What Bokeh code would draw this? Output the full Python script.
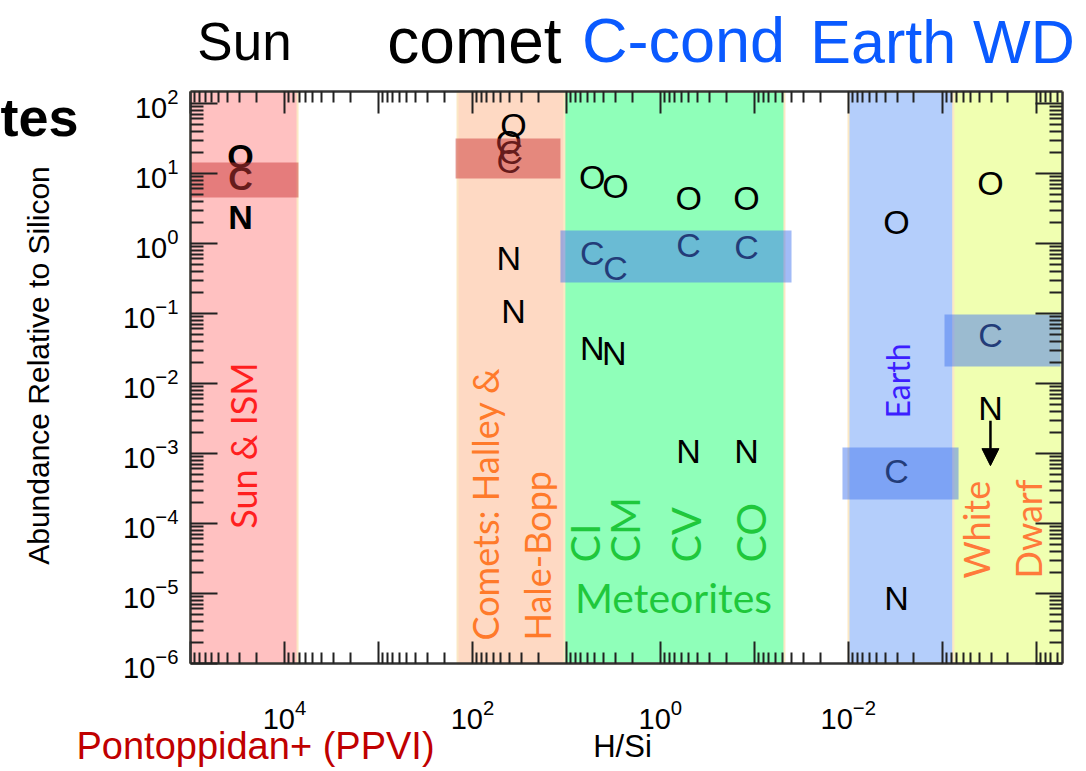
import math
from bokeh.plotting import figure
from bokeh.models import Range1d, LogAxis, FixedTicker, Label, Arrow, NormalHead
from bokeh.core.properties import value
from bokeh.embed import file_html
from bokeh.resources import INLINE

# ---------------- data ----------------
# Sun / ISM letters (bold in the original)
sun_elem = ["O", "C", "N"]
sun_hsi = [2.94e4, 2.94e4, 2.94e4]
sun_abund = [18.0, 8.5, 2.35]

# Comets (Halley, Hale-Bopp), meteorites CI, CM, CV, CO, Earth, White dwarf
other_elem = ["O", "O", "C", "C", "N", "N",
              "O", "C", "N",
              "O", "C", "N",
              "O", "C", "N",
              "O", "C", "N",
              "O", "C", "N",
              "O", "C", "N"]
other_hsi = [36.6, 41.0, 39.0, 41.0, 41.0, 36.6,
             5.3, 5.3, 5.3,
             3.0, 3.0, 3.1,
             0.50, 0.50, 0.50,
             0.121, 0.121, 0.121,
             3.07e-3, 3.07e-3, 3.07e-3,
             3.07e-4, 3.07e-4, 3.07e-4]
other_abund = [48.5, 27.7, 20.0, 15.3, 0.61, 0.11,
               8.8, 0.74, 0.032,
               6.7, 0.45, 0.027,
               4.5, 0.94, 1.1e-3,
               4.5, 0.88, 1.1e-3,
               2.0, 5.7e-4, 8.5e-6,
               7.4, 0.049, 4.5e-3]

# White dwarf N is an upper limit: arrow down to this value
wd_n_hsi = 3.07e-4
wd_n_value = 4.5e-3
wd_n_limit_tip = 6.7e-4

# H/Si ranges of the shaded regions
region_names = ["Sun & ISM", "Comets", "Meteorites", "Earth", "White Dwarf"]
region_hsi_hi = [1.0e5, 144.0, 10.5, 9.95e-3, 7.6e-4]
region_hsi_lo = [7.26e3, 10.5, 0.0478, 7.6e-4, 5.25e-5]

# Carbon ranges (translucent boxes)
crange_names = ["Sun", "comet", "C-cond", "Earth", "WD"]
crange_hsi_hi = [1.0e5, 151.0, 11.56, 0.01153, 9.46e-4]
crange_hsi_lo = [7.1e3, 11.56, 0.0402, 6.71e-4, 5.52e-5]
crange_hi = [14.4, 31.6, 1.53, 1.22e-3, 0.0968]
crange_lo = [4.54, 8.48, 0.277, 2.2e-4, 0.0175]

# axis ticks
x_major = [10.0 ** k for k in range(-4, 6)]
x_labelled = [10.0 ** k for k in (4, 2, 0, -2)]
y_major = [10.0 ** k for k in range(-6, 3)]

# ---------------- layout / styles ----------------
region_colors = ["#ffc1c1", "#fed9c3", "#8fffb9", "#b4cefb", "#f0ffb1"]
crange_colors = ["#cc3838", "#cc3838", "#4677f0", "#4677f0", "#4677f0"]

W, H = 1080, 770
# data box in canvas pixels and in log10 units
X_LO_LOG, X_HI_LOG = 5.0, -4.28      # left / right edges (reversed axis)
Y_LO_LOG, Y_HI_LOG = -6.0, 2.171     # bottom / top edges
BOX_L, BOX_T = 190, 91
PXD_X, PXD_Y = 93.97, 70.0           # pixels per decade

xr_start = 10 ** (X_LO_LOG + BOX_L / PXD_X)
xr_end = 10 ** (X_LO_LOG - (W - BOX_L) / PXD_X)
yr_end = 10 ** (Y_HI_LOG + BOX_T / PXD_Y)
yr_start = 10 ** (Y_HI_LOG - (H - BOX_T) / PXD_Y)

p = figure(width=W, height=H, x_axis_type="log", y_axis_type="log",
           x_range=Range1d(xr_start, xr_end), y_range=Range1d(yr_start, yr_end),
           min_border=0, output_backend="svg", toolbar_location=None)
p.grid.visible = False
p.outline_line_color = None
p.background_fill_color = "white"
p.border_fill_color = "white"


def sx(px):
    """canvas pixel x -> data x (for annotation placement)"""
    return 10 ** (X_LO_LOG - (px - BOX_L) / PXD_X)


def sy(py):
    """canvas pixel y -> data y (for annotation placement)"""
    return 10 ** (Y_HI_LOG - (py - BOX_T) / PXD_Y)


# shaded regions
p.quad(left=region_hsi_hi, right=region_hsi_lo, bottom=10 ** Y_LO_LOG, top=10 ** Y_HI_LOG,
       fill_color=region_colors, line_color="#fbe8c4", line_width=2)

# letters
p.text(x=sun_hsi, y=sun_abund, text=sun_elem, text_font=value("Liberation Sans"),
       text_font_size="34px", text_font_style="bold", text_align="center",
       text_baseline="middle", text_color="black")
p.text(x=other_hsi, y=other_abund, text=other_elem, text_font=value("Liberation Sans"),
       text_font_size="34px", text_align="center", text_baseline="middle",
       text_color="black")

# carbon boxes
p.quad(left=crange_hsi_hi, right=crange_hsi_lo, top=crange_hi, bottom=crange_lo,
       fill_color=crange_colors, fill_alpha=0.5, line_color=None)

# upper-limit arrow
p.add_layout(Arrow(end=NormalHead(size=17, fill_color="black", line_color="black"),
                   x_start=wd_n_hsi, y_start=wd_n_value / 10 ** (13 / 70.0),
                   x_end=wd_n_hsi, y_end=wd_n_limit_tip,
                   line_width=2.5, line_color="black"))

# ---------------- axes (drawn at the edges of the data box) ----------------
x_min, x_max = 10 ** X_HI_LOG, 10 ** X_LO_LOG
y_min, y_max = 10 ** Y_LO_LOG, 10 ** Y_HI_LOG
x_minor = [m * 10.0 ** k for k in range(-5, 6) for m in range(2, 10)
           if x_min < m * 10.0 ** k < x_max]
y_minor = [m * 10.0 ** k for k in range(-7, 3) for m in range(2, 10)
           if y_min < m * 10.0 ** k < y_max]
xt = FixedTicker(ticks=x_major, minor_ticks=x_minor)
yt = FixedTicker(ticks=y_major, minor_ticks=y_minor)
x_over = {t: " " for t in x_major if t not in x_labelled}


def style_axis(ax, major_len, minor_len):
    ax.axis_line_color = "#333333"
    ax.axis_line_width = 2.5
    ax.major_tick_line_color = "#222222"
    ax.minor_tick_line_color = "#222222"
    ax.major_tick_line_width = 2
    ax.minor_tick_line_width = 2
    ax.major_tick_in = major_len
    ax.major_tick_out = 0
    ax.minor_tick_in = minor_len
    ax.minor_tick_out = 0
    ax.major_label_text_font = "Liberation Sans"
    ax.major_label_text_font_size = "29px"
    ax.major_label_text_color = "black"


xb = p.xaxis[0]
xb.ticker = xt
xb.bounds = (x_min, x_max)
xb.fixed_location = y_min
xb.major_label_overrides = x_over
style_axis(xb, 22, 11)
xb.major_label_standoff = 36

yl = p.yaxis[0]
yl.ticker = yt
yl.bounds = (y_min, y_max)
yl.fixed_location = x_max
style_axis(yl, 27, 13)
yl.major_label_standoff = 12

xtop = LogAxis(ticker=xt, bounds=(x_min, x_max), fixed_location=y_max)
style_axis(xtop, 22, 11)
xtop.major_label_text_font_size = "2px"
xtop.major_label_text_alpha = 0
xtop.major_label_standoff = 0
p.add_layout(xtop, "above")

yr = LogAxis(ticker=yt, bounds=(y_min, y_max), fixed_location=x_min)
style_axis(yr, 27, 13)
yr.major_label_text_font_size = "2px"
yr.major_label_text_alpha = 0
yr.major_label_standoff = 0
p.add_layout(yr, "right")

# ---------------- texts ----------------
SANS = "Liberation Sans"
HUMAN = "Lato"


def lab(px, py, text, font, size, color, angle=0.0, align="center", style="normal"):
    p.add_layout(Label(x=sx(px), y=sy(py), text=text, text_font=font,
                       text_font_size=size, text_color=color, angle=angle,
                       text_align=align, text_baseline="middle",
                       text_font_style=style))


V = math.pi / 2
# region labels inside the box
lab(242, 445, "Sun & ISM", HUMAN, "36px", "#ff1f1f", V)
lab(484, 640, "Comets: Halley &", HUMAN, "36px", "#ff7a2a", V, "left")
lab(536, 640, "Hale-Bopp", HUMAN, "36px", "#ff7a2a", V, "left")
for px, t in [(584, "CI"), (624, "CM"), (685, "CV"), (750, "CO")]:
    lab(px, 562, t, HUMAN, "41px", "#1fc83c", V, "left")
lab(673, 597, "Meteorites", HUMAN, "41px", "#1fc83c")
lab(897, 418, "Earth", HUMAN, "32px", "#3c1eff", V, "left")
lab(975, 578, "White", HUMAN, "36px", "#ff7a3a", V, "left")
lab(1027, 578, "Dwarf", HUMAN, "36px", "#ff7a3a", V, "left")

# labels outside the box (y = visual centre of the capitals)
lab(244, 41, "Sun", SANS, "53px", "black")
lab(474, 40, "comet", SANS, "64px", "black")
lab(683, 39, "C-cond", SANS, "63px", "#0a5aff")
lab(942, 41, "Earth WD", SANS, "61px", "#0a5aff")
lab(78, 116, "tes", SANS, "54px", "black", align="right", style="bold")
lab(38, 365, "Abundance Relative to Silicon", SANS, "30px", "black", V)
lab(255, 745, "Pontoppidan+ (PPVI)", SANS, "38px", "#c00000")
lab(622, 746, "H/Si", SANS, "31px", "black")

open("out.html", "w").write(file_html(p, INLINE))
